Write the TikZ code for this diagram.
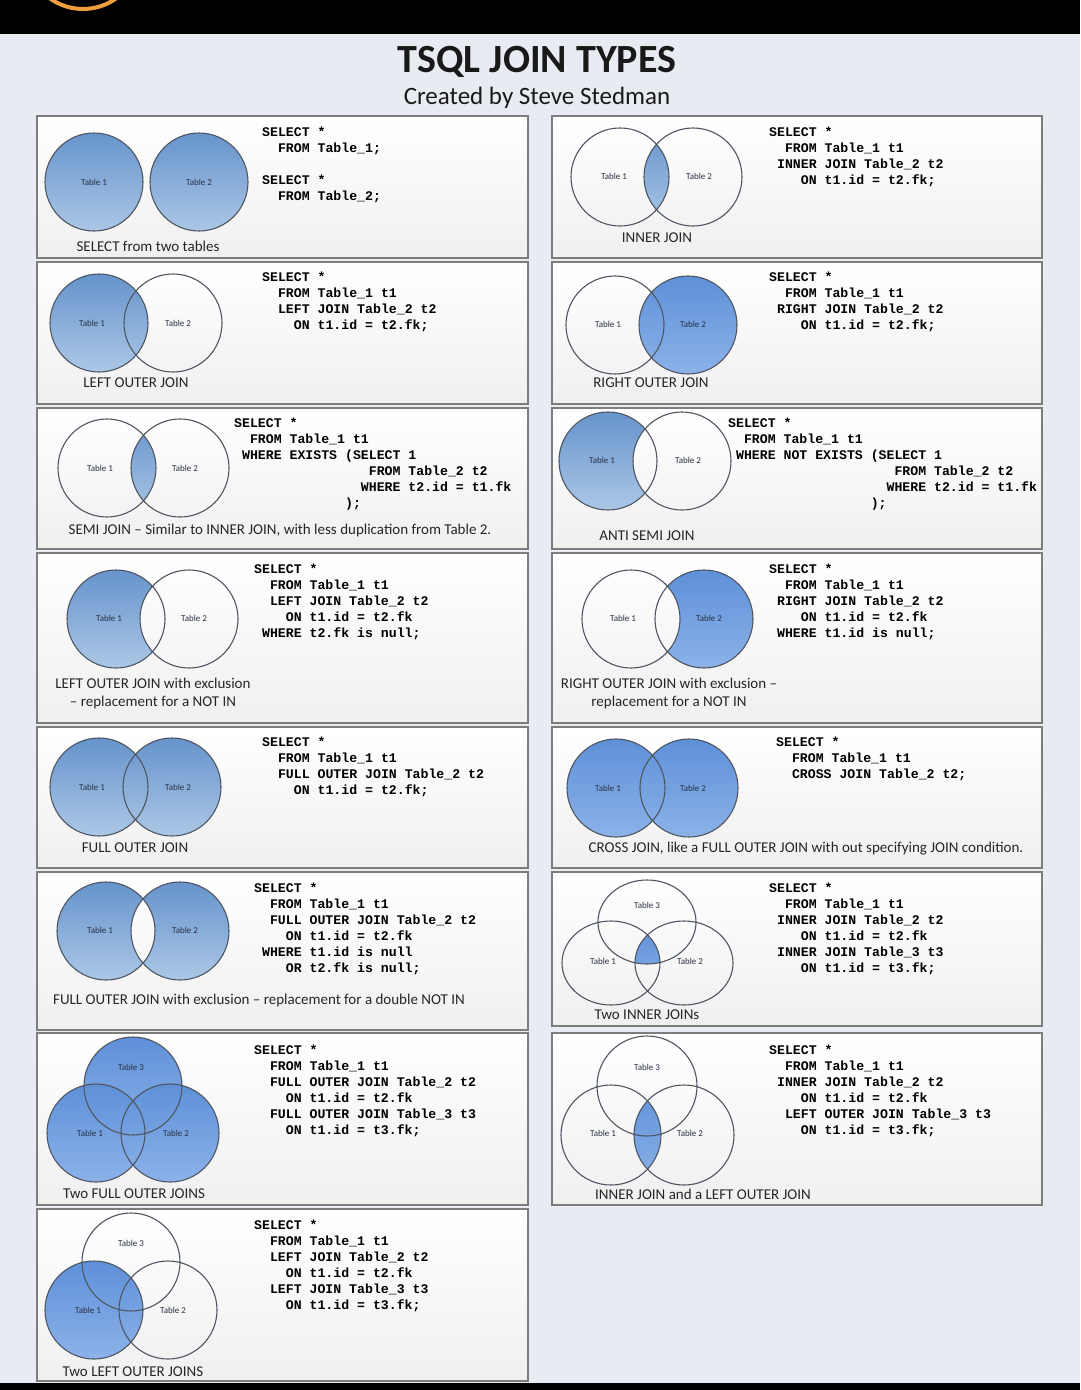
\documentclass[tikz,border=0pt]{standalone}
\usepackage{fontspec}
\setmainfont{Carlito}
\newfontfamily\sqlfont{Liberation Mono}
\usepackage{tikz}
\usetikzlibrary{positioning}
\definecolor{JTBack}{RGB}{232,236,242}
\definecolor{JTFrame}{RGB}{125,125,125}
\definecolor{JTLine}{RGB}{78,86,98}
\definecolor{JTSteelA}{RGB}{102,148,204}
\definecolor{JTSteelB}{RGB}{172,199,230}
\definecolor{JTBlueA}{RGB}{94,144,216}
\definecolor{JTBlueB}{RGB}{140,178,233}
\definecolor{JTInk}{RGB}{40,48,66}
\definecolor{JTTitle}{RGB}{25,25,25}
\definecolor{JTOrange}{RGB}{238,158,62}

\begin{document}
\begin{tikzpicture}[x=1pt, y=-1pt,
    panel/.style={draw=JTFrame, line width=1.8pt, top color=white, bottom color=gray!12},
    venn/.style={draw=JTLine, line width=1.1pt},
    steel/.style={top color=JTSteelA, bottom color=JTSteelB},
    bright/.style={top color=JTBlueA, bottom color=JTBlueB},
    tbl/.style={font=\fontsize{9}{10}\selectfont, text=JTInk, inner sep=0pt},
    sql/.style={anchor=base west, inner sep=0pt,
                font=\sqlfont\bfseries\fontsize{13.2}{16}\selectfont},
    joincap/.style={font=\fontsize{15}{18}\selectfont, text=black!85,
                inner sep=0pt, align=center}
  ]
  \useasboundingbox (0,0) rectangle (1080,1390);
  \fill[JTBack] (0,0) rectangle (1080,1390);
  \fill[black] (0,0) rectangle (1080,34);
  \fill[black] (0,1383) rectangle (1080,1390);
  \begin{scope}
    \clip (0,0) rectangle (1080,34);
    \draw[JTOrange, line width=4pt] (83,-48) circle (57);
  \end{scope}

  % Title
  \node[font=\bfseries\fontsize{40}{44}\selectfont, text=JTTitle] (title) at (537,62) {TSQL JOIN TYPES};
  \node[font=\fontsize{25}{28}\selectfont, text=JTTitle] (subtitle) at (537,98) {Created by Steve Stedman};

  % Panel — SELECT from two tables
  \draw[panel] (37,116) rectangle (528,258);
  \shade[steel] (94,182) circle (49);
  \shade[steel] (199,182) circle (49);
  \draw[venn] (94,182) circle (49) (199,182) circle (49);
  \node[tbl] (selT1) at (94,182) {Table 1};
  \node[tbl] (selT2) at (199,182) {Table 2};
  \foreach \row/\col/\txt in {0/0/SELECT *, 1/2/FROM Table\_1;, 3/0/SELECT *, 4/2/FROM Table\_2;}
    \node[sql] (sel-\row) at (262+\col*7.92, 136+\row*16) {\txt};
  \node[joincap] (selCap) at (148,246) {SELECT from two tables};

  % Panel — INNER JOIN
  \draw[panel] (552,116) rectangle (1042,258);
  \begin{scope}
    \clip (620,177) circle (49);
    \shade[steel] (693,177) circle (49);
  \end{scope}
  \draw[venn] (620,177) circle (49) (693,177) circle (49);
  \node[tbl] (innT1) at (614,176) {Table 1};
  \node[tbl] (innT2) at (699,176) {Table 2};
  \foreach \row/\col/\txt in {0/0/SELECT *, 1/2/FROM Table\_1 t1,
                              2/1/INNER JOIN Table\_2 t2, 3/4/ON t1.id = t2.fk;}
    \node[sql] (inn-\row) at (769+\col*7.92, 136+\row*16) {\txt};
  \node[joincap] (innCap) at (657,238) {INNER JOIN};

  % Panel — LEFT OUTER JOIN
  \draw[panel] (37,262) rectangle (528,404);
  \shade[steel] (99,323) circle (49);
  \draw[venn] (99,323) circle (49) (173,323) circle (49);
  \node[tbl] (loT1) at (92,323) {Table 1};
  \node[tbl] (loT2) at (178,323) {Table 2};
  \foreach \row/\col/\txt in {0/0/SELECT *, 1/2/FROM Table\_1 t1,
                              2/2/LEFT JOIN Table\_2 t2, 3/4/ON t1.id = t2.fk;}
    \node[sql] (lo-\row) at (262+\col*7.92, 281+\row*16) {\txt};
  \node[joincap] (loCap) at (136,383) {LEFT OUTER JOIN};

  % Panel — RIGHT OUTER JOIN
  \draw[panel] (552,262) rectangle (1042,404);
  \shade[bright] (688,325) circle (49);
  \draw[venn] (615,325) circle (49) (688,325) circle (49);
  \node[tbl] (roT1) at (608,324) {Table 1};
  \node[tbl] (roT2) at (693,324) {Table 2};
  \foreach \row/\col/\txt in {0/0/SELECT *, 1/2/FROM Table\_1 t1,
                              2/1/RIGHT JOIN Table\_2 t2, 3/4/ON t1.id = t2.fk;}
    \node[sql] (ro-\row) at (769+\col*7.92, 281+\row*16) {\txt};
  \node[joincap] (roCap) at (651,383) {RIGHT OUTER JOIN};

  % Panel — SEMI JOIN
  \draw[panel] (37,408) rectangle (528,549);
  \begin{scope}
    \clip (107,468) circle (49);
    \shade[steel] (180,468) circle (49);
  \end{scope}
  \draw[venn] (107,468) circle (49) (180,468) circle (49);
  \node[tbl] (smT1) at (100,468) {Table 1};
  \node[tbl] (smT2) at (185,468) {Table 2};
  \foreach \row/\col/\txt in {0/0/SELECT *, 1/2/FROM Table\_1 t1,
                              2/1/WHERE EXISTS (SELECT 1, 3/17/FROM Table\_2 t2,
                              4/16/WHERE t2.id = t1.fk, 5/14/);}
    \node[sql] (sm-\row) at (234+\col*7.92, 427+\row*16) {\txt};
  \node[joincap] (smCap) at (280,530) {SEMI JOIN -- Similar to INNER JOIN, with less duplication from Table 2.};

  % Panel — ANTI SEMI JOIN
  \draw[panel] (552,408) rectangle (1042,549);
  \begin{scope}
    \clip (608,461) circle (49);
    \shade[steel, even odd rule] (608,461) circle (49) (682,461) circle (49);
  \end{scope}
  \draw[venn] (608,461) circle (49) (682,461) circle (49);
  \node[tbl] (asT1) at (602,460) {Table 1};
  \node[tbl] (asT2) at (688,460) {Table 2};
  \foreach \row/\col/\txt in {0/0/SELECT *, 1/2/FROM Table\_1 t1,
                              2/1/WHERE NOT EXISTS (SELECT 1, 3/21/FROM Table\_2 t2,
                              4/20/WHERE t2.id = t1.fk, 5/18/);}
    \node[sql] (as-\row) at (728+\col*7.92, 427+\row*16) {\txt};
  \node[joincap] (asCap) at (647,536) {ANTI SEMI JOIN};

  % Panel — LEFT OUTER JOIN with exclusion
  \draw[panel] (37,553) rectangle (528,723);
  \begin{scope}
    \clip (116,619) circle (49);
    \shade[steel, even odd rule] (116,619) circle (49) (189,619) circle (49);
  \end{scope}
  \draw[venn] (116,619) circle (49) (189,619) circle (49);
  \node[tbl] (lxT1) at (109,618) {Table 1};
  \node[tbl] (lxT2) at (194,618) {Table 2};
  \foreach \row/\col/\txt in {0/0/SELECT *, 1/2/FROM Table\_1 t1,
                              2/2/LEFT JOIN Table\_2 t2, 3/4/ON t1.id = t2.fk,
                              4/1/WHERE t2.fk is null;}
    \node[sql] (lx-\row) at (254+\col*7.92, 573+\row*16) {\txt};
  \node[joincap] (lxCap) at (153,693) {LEFT OUTER JOIN with exclusion\\-- replacement for a NOT IN};

  % Panel — RIGHT OUTER JOIN with exclusion
  \draw[panel] (552,553) rectangle (1042,723);
  \begin{scope}
    \clip (704,619) circle (49);
    \shade[bright, even odd rule] (631,619) circle (49) (704,619) circle (49);
  \end{scope}
  \draw[venn] (631,619) circle (49) (704,619) circle (49);
  \node[tbl] (rxT1) at (623,618) {Table 1};
  \node[tbl] (rxT2) at (709,618) {Table 2};
  \foreach \row/\col/\txt in {0/0/SELECT *, 1/2/FROM Table\_1 t1,
                              2/1/RIGHT JOIN Table\_2 t2, 3/4/ON t1.id = t2.fk,
                              4/1/WHERE t1.id is null;}
    \node[sql] (rx-\row) at (769+\col*7.92, 573+\row*16) {\txt};
  \node[joincap] (rxCap) at (669,693) {RIGHT OUTER JOIN with exclusion --\\replacement for a NOT IN};

  % Panel — FULL OUTER JOIN
  \draw[panel] (37,727) rectangle (528,868);
  \shade[steel] (99,787) circle (49);
  \shade[steel] (172,787) circle (49);
  \draw[venn] (99,787) circle (49) (172,787) circle (49);
  \node[tbl] (foT1) at (92,787) {Table 1};
  \node[tbl] (foT2) at (178,787) {Table 2};
  \foreach \row/\col/\txt in {0/0/SELECT *, 1/2/FROM Table\_1 t1,
                              2/2/FULL OUTER JOIN Table\_2 t2, 3/4/ON t1.id = t2.fk;}
    \node[sql] (fo-\row) at (262+\col*7.92, 746+\row*16) {\txt};
  \node[joincap] (foCap) at (135,848) {FULL OUTER JOIN};

  % Panel — CROSS JOIN
  \draw[panel] (552,727) rectangle (1042,868);
  \shade[bright] (616,788) circle (49);
  \shade[bright] (689,788) circle (49);
  \draw[venn] (616,788) circle (49) (689,788) circle (49);
  \node[tbl] (crT1) at (608,788) {Table 1};
  \node[tbl] (crT2) at (693,788) {Table 2};
  \foreach \row/\col/\txt in {0/0/SELECT *, 1/2/FROM Table\_1 t1,
                              2/2/CROSS JOIN Table\_2 t2;}
    \node[sql] (cr-\row) at (776+\col*7.92, 746+\row*16) {\txt};
  \node[joincap] (crCap) at (806,849) {CROSS JOIN, like a FULL OUTER JOIN with out specifying JOIN condition.};

  % Panel — FULL OUTER JOIN with exclusion
  \draw[panel] (37,872) rectangle (528,1030);
  \shade[steel, even odd rule] (106,931) circle (49) (180,931) circle (49);
  \draw[venn] (106,931) circle (49) (180,931) circle (49);
  \node[tbl] (fxT1) at (100,930) {Table 1};
  \node[tbl] (fxT2) at (185,930) {Table 2};
  \foreach \row/\col/\txt in {0/0/SELECT *, 1/2/FROM Table\_1 t1,
                              2/2/FULL OUTER JOIN Table\_2 t2, 3/4/ON t1.id = t2.fk,
                              4/1/WHERE t1.id is null, 5/4/OR t2.fk is null;}
    \node[sql] (fx-\row) at (254+\col*7.92, 892+\row*16) {\txt};
  \node[joincap] (fxCap) at (259,1000) {FULL OUTER JOIN with exclusion -- replacement for a double NOT IN};

  % Panel — Two INNER JOINs
  \draw[panel] (552,872) rectangle (1042,1026);
  \begin{scope}
    \clip (647,922) ellipse (49 and 42);
    \clip (611,963) ellipse (49 and 42);
    \shade[bright] (684,963) ellipse (49 and 42);
  \end{scope}
  \draw[venn] (647,922) ellipse (49 and 42) (611,963) ellipse (49 and 42)
              (684,963) ellipse (49 and 42);
  \node[tbl] (tiT3) at (647,905) {Table 3};
  \node[tbl] (tiT1) at (603,961) {Table 1};
  \node[tbl] (tiT2) at (690,961) {Table 2};
  \foreach \row/\col/\txt in {0/0/SELECT *, 1/2/FROM Table\_1 t1,
                              2/1/INNER JOIN Table\_2 t2, 3/4/ON t1.id = t2.fk,
                              4/1/INNER JOIN Table\_3 t3, 5/4/ON t1.id = t3.fk;}
    \node[sql] (ti-\row) at (769+\col*7.92, 892+\row*16) {\txt};
  \node[joincap] (tiCap) at (647,1015) {Two INNER JOINs};

  % Panel — Two FULL OUTER JOINS
  \draw[panel] (37,1033) rectangle (528,1205);
  \shade[bright] (133,1086) circle (49);
  \shade[bright] (96,1133) circle (49);
  \shade[bright] (170,1133) circle (49);
  \draw[venn] (133,1086) circle (49) (96,1133) circle (49) (170,1133) circle (49);
  \node[tbl] (tfT3) at (131,1067) {Table 3};
  \node[tbl] (tfT1) at (90,1133) {Table 1};
  \node[tbl] (tfT2) at (176,1133) {Table 2};
  \foreach \row/\col/\txt in {0/0/SELECT *, 1/2/FROM Table\_1 t1,
                              2/2/FULL OUTER JOIN Table\_2 t2, 3/4/ON t1.id = t2.fk,
                              4/2/FULL OUTER JOIN Table\_3 t3, 5/4/ON t1.id = t3.fk;}
    \node[sql] (tf-\row) at (254+\col*7.92, 1054+\row*16) {\txt};
  \node[joincap] (tfCap) at (134,1194) {Two FULL OUTER JOINS};

  % Panel — INNER JOIN and a LEFT OUTER JOIN
  \draw[panel] (552,1033) rectangle (1042,1205);
  \begin{scope}
    \clip (611,1135) circle (50);
    \shade[bright] (684,1135) circle (50);
  \end{scope}
  \draw[venn] (647,1086) circle (50) (611,1135) circle (50) (684,1135) circle (50);
  \node[tbl] (ilT3) at (647,1067) {Table 3};
  \node[tbl] (ilT1) at (603,1133) {Table 1};
  \node[tbl] (ilT2) at (690,1133) {Table 2};
  \foreach \row/\col/\txt in {0/0/SELECT *, 1/2/FROM Table\_1 t1,
                              2/1/INNER JOIN Table\_2 t2, 3/4/ON t1.id = t2.fk,
                              4/2/LEFT OUTER JOIN Table\_3 t3, 5/4/ON t1.id = t3.fk;}
    \node[sql] (il-\row) at (769+\col*7.92, 1054+\row*16) {\txt};
  \node[joincap] (ilCap) at (703,1194) {INNER JOIN and a LEFT OUTER JOIN};

  % Panel — Two LEFT OUTER JOINS
  \draw[panel] (37,1209) rectangle (528,1381);
  \shade[bright] (94,1310) circle (49);
  \draw[venn] (131,1262) circle (49) (94,1310) circle (49) (168,1310) circle (49);
  \node[tbl] (tlT3) at (131,1243) {Table 3};
  \node[tbl] (tlT1) at (88,1310) {Table 1};
  \node[tbl] (tlT2) at (173,1310) {Table 2};
  \foreach \row/\col/\txt in {0/0/SELECT *, 1/2/FROM Table\_1 t1,
                              2/2/LEFT JOIN Table\_2 t2, 3/4/ON t1.id = t2.fk,
                              4/2/LEFT JOIN Table\_3 t3, 5/4/ON t1.id = t3.fk;}
    \node[sql] (tl-\row) at (254+\col*7.92, 1229+\row*16) {\txt};
  \node[joincap] (tlCap) at (133,1372) {Two LEFT OUTER JOINS};
\end{tikzpicture}
\end{document}
